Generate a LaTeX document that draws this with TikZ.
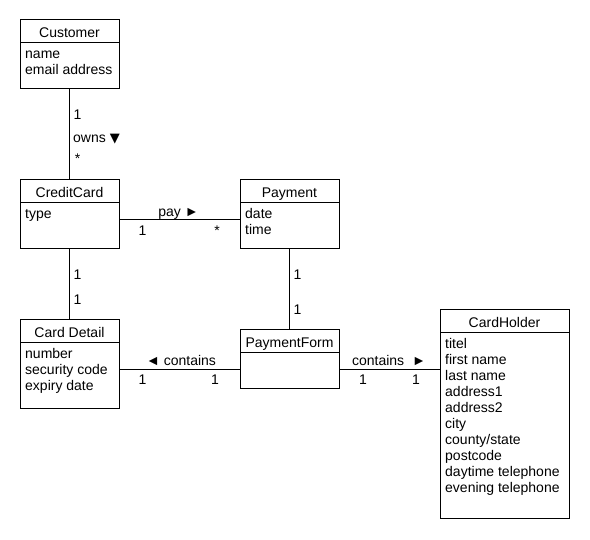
\documentclass[tikz,border=0pt]{standalone}
\usepackage{fontspec}
\setmainfont{Liberation Sans}
\newfontfamily\symfont{DejaVu Sans}
\newcommand\umlclass[6]{%
  \node[box, minimum width=#3, minimum height=#4] (#1) at #2 {};
  \draw[line width=1pt] ([yshift=-23pt]#1.north west) -- ([yshift=-23pt]#1.north east);
  \node[ttl] (#1-t) at ([yshift=-18pt]#1.north) {#5};
  \foreach \a [count=\i] in {#6} \node[attr] (#1-\i) at ([xshift=5pt,yshift={-38.5pt-16pt*(\i-1)}]#1.north west) {\a};
}
\begin{document}
\begin{tikzpicture}[x=1pt,y=-1pt, font=\fontsize{14}{16}\selectfont,
  box/.style={draw, line width=1pt, anchor=north west, inner sep=0pt, outer sep=0pt},
  ttl/.style={anchor=base, inner sep=0pt},
  attr/.style={anchor=base west, inner sep=0pt},
  lbl/.style={anchor=base, inner sep=0pt},
  lblw/.style={anchor=base west, inner sep=0pt},
  assoc/.style={draw, line width=1pt}]
\useasboundingbox (0,0) rectangle (590,540);
\fill[white] (0,0) rectangle (590,540);

\umlclass{cust}{(20,20)}{99pt}{69pt}{Customer}{name,email address}
\umlclass{cc}{(20,180)}{99pt}{69pt}{CreditCard}{type}
\umlclass{pay}{(240,180)}{99pt}{69pt}{Payment}{date,time}
\umlclass{cd}{(20,320)}{99pt}{89pt}{Card Detail}{number,security code,expiry date}
\umlclass{pf}{(240,330)}{99pt}{59pt}{PaymentForm}{}
\umlclass{ch}{(440,310)}{129pt}{209pt}{CardHolder}{titel,first name,last name,address1,address2,city,county/state,postcode,daytime telephone,evening telephone}

% connectors
\draw[assoc] (cust) -- (cc);
\draw[assoc] (cc) -- (cd);
\draw[assoc] (pay) -- (pf);
\draw[assoc] ([yshift=-5.5pt]cc.east) -- ([yshift=-5.5pt]pay.west);
\draw[assoc] ([yshift=-5.5pt]cd.east) coordinate (l1) -- (l1 -| pf.west);
\draw[assoc] (pf.east |- l1) -- (l1 -| ch.west);

% labels
\node[lbl] (m1) at (77.5,120) {1};
\node[lblw] (owns) at (73,143) {owns {\symfont\fontsize{13}{13}\selectfont ▼}};
\node[lbl] (m2) at (77.5,164) {*};

\node[lbl] (paylbl) at (178.5,216.5) {pay ►};
\node[lbl] (m3) at (142.5,235.5) {1};
\node[lbl] (m4) at (217,235.5) {*};

\node[lbl] (m5) at (77.5,280) {1};
\node[lbl] (m6) at (77.5,305) {1};

\node[lbl] (m7) at (297.5,280) {1};
\node[lbl] (m8) at (297.5,315) {1};

\node[lbl] (cont1) at (181,366) {◄ contains};
\node[lbl] (m9) at (142.5,385) {1};
\node[lbl] (m10) at (215,385) {1};

\node[lbl] (cont2) at (389,366) {contains \ ►};
\node[lbl] (m11) at (363,385) {1};
\node[lbl] (m12) at (416,385) {1};
\end{tikzpicture}
\end{document}
